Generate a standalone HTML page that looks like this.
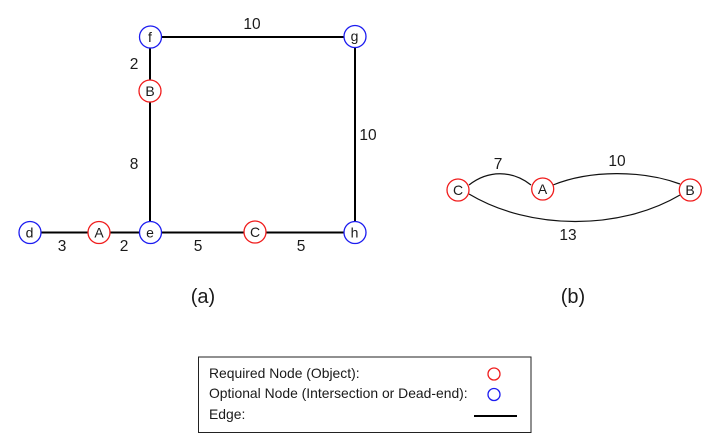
<!DOCTYPE html>
<html><head><meta charset="utf-8"><style>
html,body{margin:0;padding:0;background:#fff;width:715px;height:439px;overflow:hidden}
svg{display:block}
text{font-family:"Liberation Sans",Arial,sans-serif;fill:#1a1a1a}
.n{font-size:14px;text-anchor:middle}
.l{font-size:15.5px;text-anchor:middle}
.c{font-size:20px;text-anchor:middle}
.k{font-size:13.9px}
.r{fill:#fff;stroke:#f01c1c;stroke-width:1.3}
.b{fill:#fff;stroke:#1c1cf0;stroke-width:1.3}
</style></head><body>
<svg width="715" height="439" viewBox="0 0 715 439" xmlns="http://www.w3.org/2000/svg">
<g fill="none" stroke="#000" stroke-width="2">
<path d="M150 37H355V232.500M150 37V232.500M30 232.500H355"/>
</g>
<circle class="b" cx="150.500" cy="37" r="11"/><text class="n" x="150" y="42">f</text>
<circle class="b" cx="355" cy="36.500" r="11"/><text class="n" x="354.500" y="41">g</text>
<circle class="r" cx="150" cy="91" r="11"/><text class="n" x="150" y="96">B</text>
<circle class="b" cx="30" cy="232.500" r="11"/><text class="n" x="29.500" y="237.500">d</text>
<circle class="r" cx="99" cy="232.500" r="11"/><text class="n" x="99" y="237.500">A</text>
<circle class="b" cx="150.500" cy="232.500" r="11"/><text class="n" x="150" y="237.500">e</text>
<circle class="r" cx="255" cy="232" r="11"/><text class="n" x="255" y="237">C</text>
<circle class="b" cx="355" cy="232.500" r="11"/><text class="n" x="354.500" y="237.500">h</text>
<text class="l" x="252" y="29">10</text>
<text class="l" x="134" y="69">2</text>
<text class="l" x="368" y="140">10</text>
<text class="l" x="134" y="169">8</text>
<text class="l" x="62" y="251">3</text>
<text class="l" x="124" y="251">2</text>
<text class="l" x="198" y="251">5</text>
<text class="l" x="301" y="251">5</text>
<text class="c" x="203" y="303">(a)</text>
<g fill="none" stroke="#111" stroke-width="1.2">
<path d="M469 185C488 170 512 170 531 185"/>
<path d="M553 185C590 170 642 170 680 184"/>
<path d="M469 194C530 230.500 620 230.500 680 195"/>
</g>
<circle class="r" cx="458" cy="190" r="11"/><text class="n" x="458" y="195">C</text>
<circle class="r" cx="542.700" cy="189" r="11"/><text class="n" x="542.500" y="194">A</text>
<circle class="r" cx="690.300" cy="190" r="11"/><text class="n" x="690" y="195">B</text>
<text class="l" x="498" y="169">7</text>
<text class="l" x="617" y="166">10</text>
<text class="l" x="568" y="240">13</text>
<text class="c" x="573" y="303">(b)</text>
<rect x="198.500" y="357" width="332.500" height="75.500" fill="#fff" stroke="#222" stroke-width="1"/>
<text class="k" x="209" y="378">Required Node (Object):</text>
<text class="k" x="209" y="398">Optional Node (Intersection or Dead-end):</text>
<text class="k" x="209" y="419">Edge:</text>
<circle class="r" cx="494" cy="374" r="6"/>
<circle class="b" cx="494" cy="394.500" r="6"/>
<line x1="474" y1="416" x2="517" y2="416" stroke="#000" stroke-width="2"/>
</svg>
</body></html>
